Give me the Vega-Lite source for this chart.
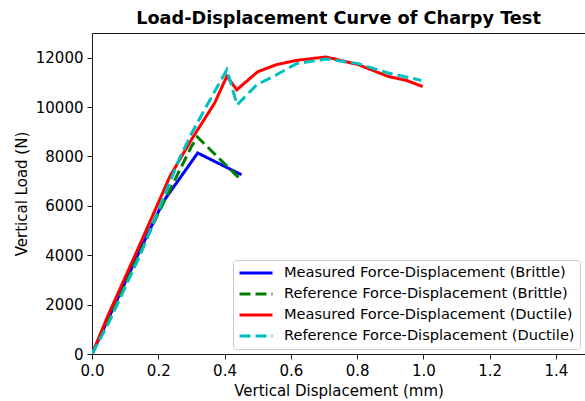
{
  "$schema": "https://vega.github.io/schema/vega-lite/v6.json",
  "width": 493,
  "height": 321,
  "autosize": {"type": "none"},
  "padding": {"left": 92, "top": 33, "right": 0, "bottom": 47},
  "background": "white",
  "title": {"text": "Load-Displacement Curve of Charpy Test", "font": "DejaVu Sans", "fontSize": 17.7, "fontWeight": "bold", "color": "black", "anchor": "middle", "offset": 5},
  "config": {
    "view": {"stroke": null},
    "axis": {"domainColor": "black", "domainWidth": 0.9, "tickColor": "black", "tickWidth": 0.9, "tickSize": 5, "labelPadding": 4, "labelFont": "DejaVu Sans", "labelFontSize": 15, "labelColor": "black", "labelFlush": false, "titleFont": "DejaVu Sans", "titleFontSize": 15, "titleFontWeight": "normal", "titleColor": "black", "grid": false},
    "legend": {"labelFont": "DejaVu Sans", "labelFontSize": 14.6, "labelColor": "black", "labelLimit": 0}
  },
  "data": {"values": [
    {"s": "Measured Force-Displacement (Brittle)", "x": 0, "y": 0},
    {"s": "Measured Force-Displacement (Brittle)", "x": 0.05, "y": 1450},
    {"s": "Measured Force-Displacement (Brittle)", "x": 0.1, "y": 2900},
    {"s": "Measured Force-Displacement (Brittle)", "x": 0.15, "y": 4350},
    {"s": "Measured Force-Displacement (Brittle)", "x": 0.215, "y": 6170},
    {"s": "Measured Force-Displacement (Brittle)", "x": 0.319, "y": 8140},
    {"s": "Measured Force-Displacement (Brittle)", "x": 0.451, "y": 7260},
    {"s": "Reference Force-Displacement (Brittle)", "x": 0, "y": 0},
    {"s": "Reference Force-Displacement (Brittle)", "x": 0.05, "y": 1350},
    {"s": "Reference Force-Displacement (Brittle)", "x": 0.1, "y": 2800},
    {"s": "Reference Force-Displacement (Brittle)", "x": 0.15, "y": 4250},
    {"s": "Reference Force-Displacement (Brittle)", "x": 0.2, "y": 5700},
    {"s": "Reference Force-Displacement (Brittle)", "x": 0.25, "y": 7050},
    {"s": "Reference Force-Displacement (Brittle)", "x": 0.3, "y": 8400},
    {"s": "Reference Force-Displacement (Brittle)", "x": 0.318, "y": 8790},
    {"s": "Reference Force-Displacement (Brittle)", "x": 0.449, "y": 7060},
    {"s": "Measured Force-Displacement (Ductile)", "x": 0, "y": 0},
    {"s": "Measured Force-Displacement (Ductile)", "x": 0.049, "y": 1580},
    {"s": "Measured Force-Displacement (Ductile)", "x": 0.1, "y": 3100},
    {"s": "Measured Force-Displacement (Ductile)", "x": 0.15, "y": 4600},
    {"s": "Measured Force-Displacement (Ductile)", "x": 0.2, "y": 6120},
    {"s": "Measured Force-Displacement (Ductile)", "x": 0.235, "y": 7190},
    {"s": "Measured Force-Displacement (Ductile)", "x": 0.3, "y": 8680},
    {"s": "Measured Force-Displacement (Ductile)", "x": 0.37, "y": 10160},
    {"s": "Measured Force-Displacement (Ductile)", "x": 0.407, "y": 11250},
    {"s": "Measured Force-Displacement (Ductile)", "x": 0.437, "y": 10700},
    {"s": "Measured Force-Displacement (Ductile)", "x": 0.5, "y": 11430},
    {"s": "Measured Force-Displacement (Ductile)", "x": 0.557, "y": 11720},
    {"s": "Measured Force-Displacement (Ductile)", "x": 0.617, "y": 11890},
    {"s": "Measured Force-Displacement (Ductile)", "x": 0.706, "y": 12030},
    {"s": "Measured Force-Displacement (Ductile)", "x": 0.803, "y": 11720},
    {"s": "Measured Force-Displacement (Ductile)", "x": 0.894, "y": 11240},
    {"s": "Measured Force-Displacement (Ductile)", "x": 0.949, "y": 11080},
    {"s": "Measured Force-Displacement (Ductile)", "x": 0.998, "y": 10830},
    {"s": "Reference Force-Displacement (Ductile)", "x": 0, "y": 0},
    {"s": "Reference Force-Displacement (Ductile)", "x": 0.05, "y": 1250},
    {"s": "Reference Force-Displacement (Ductile)", "x": 0.1, "y": 2700},
    {"s": "Reference Force-Displacement (Ductile)", "x": 0.15, "y": 4150},
    {"s": "Reference Force-Displacement (Ductile)", "x": 0.2, "y": 5800},
    {"s": "Reference Force-Displacement (Ductile)", "x": 0.265, "y": 7950},
    {"s": "Reference Force-Displacement (Ductile)", "x": 0.3, "y": 8920},
    {"s": "Reference Force-Displacement (Ductile)", "x": 0.35, "y": 10150},
    {"s": "Reference Force-Displacement (Ductile)", "x": 0.407, "y": 11510},
    {"s": "Reference Force-Displacement (Ductile)", "x": 0.438, "y": 10090},
    {"s": "Reference Force-Displacement (Ductile)", "x": 0.497, "y": 10900},
    {"s": "Reference Force-Displacement (Ductile)", "x": 0.557, "y": 11310},
    {"s": "Reference Force-Displacement (Ductile)", "x": 0.617, "y": 11760},
    {"s": "Reference Force-Displacement (Ductile)", "x": 0.706, "y": 11950},
    {"s": "Reference Force-Displacement (Ductile)", "x": 0.803, "y": 11760},
    {"s": "Reference Force-Displacement (Ductile)", "x": 0.894, "y": 11380},
    {"s": "Reference Force-Displacement (Ductile)", "x": 0.994, "y": 11080}
  ]},
  "resolve": {"axis": {"x": "independent"}},
  "layer": [
    {
      "mark": {"type": "line", "strokeWidth": 3, "clip": true},
      "encoding": {
        "x": {"field": "x", "type": "quantitative", "scale": {"domain": [0, 1.4879], "nice": false, "zero": false},
              "axis": {"orient": "bottom", "values": [0, 0.2, 0.4, 0.6, 0.8, 1.0, 1.2, 1.4], "format": ".1f", "title": "Vertical Displacement (mm)", "titlePadding": 5}},
        "y": {"field": "y", "type": "quantitative", "scale": {"domain": [0, 13000], "nice": false},
              "axis": {"values": [0, 2000, 4000, 6000, 8000, 10000, 12000], "format": "d", "title": "Vertical Load (N)", "titlePadding": 6}},
        "color": {"field": "s", "type": "nominal",
                  "scale": {"domain": ["Measured Force-Displacement (Brittle)", "Reference Force-Displacement (Brittle)", "Measured Force-Displacement (Ductile)", "Reference Force-Displacement (Ductile)"],
                            "range": ["#0000ff", "#008000", "#ff0000", "#00bfbf"]},
                  "legend": {"title": null, "orient": "bottom-right", "offset": 5, "symbolType": "stroke", "symbolSize": 1089, "symbolStrokeWidth": 3, "clipHeight": 16, "rowPadding": 5, "labelOffset": 10, "padding": 5, "labelLimit": 0, "fillColor": "rgba(255,255,255,0.8)", "strokeColor": "#cccccc", "cornerRadius": 3}},
        "strokeDash": {"field": "s", "type": "nominal",
                  "scale": {"domain": ["Measured Force-Displacement (Brittle)", "Reference Force-Displacement (Brittle)", "Measured Force-Displacement (Ductile)", "Reference Force-Displacement (Ductile)"],
                            "range": [[1, 0], [11, 5], [1, 0], [11, 5]]},
                  "legend": null},
        "order": {"field": "x", "type": "quantitative"}
      }
    },
    {
      "mark": {"type": "line", "opacity": 0},
      "encoding": {
        "x": {"field": "x", "type": "quantitative", "axis": {"orient": "top", "labels": false, "ticks": false, "title": null}},
        "y": {"field": "y", "type": "quantitative"}
      }
    }
  ]
}
